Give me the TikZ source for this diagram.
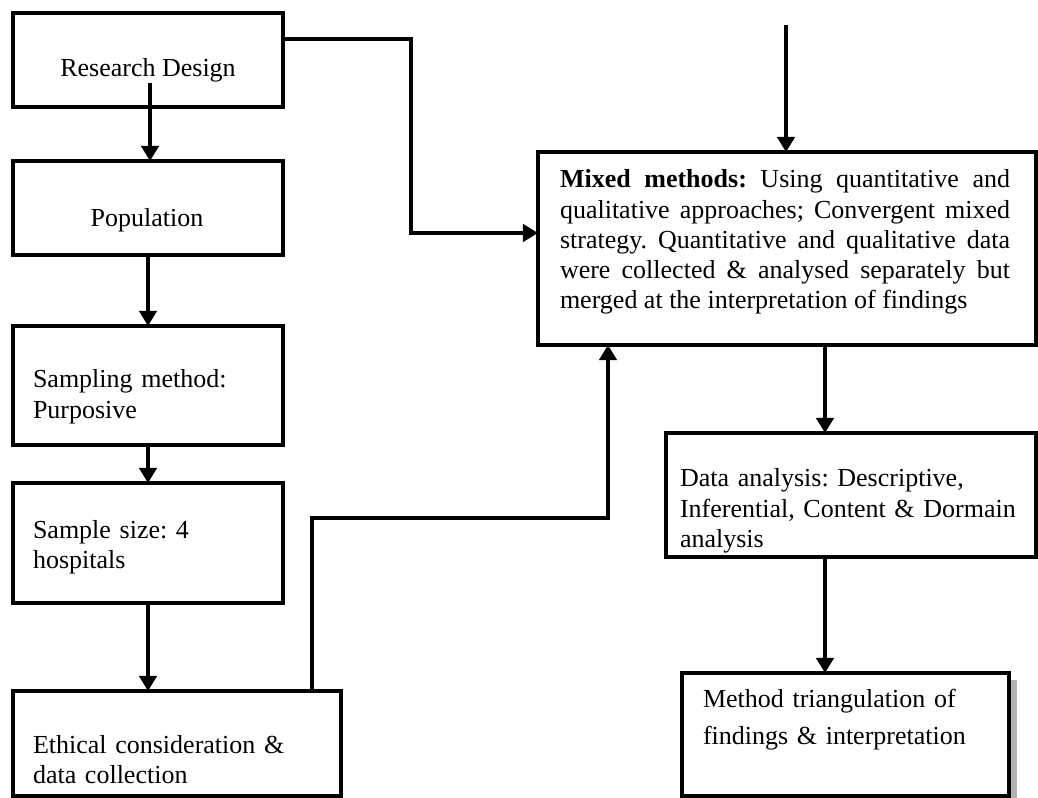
\documentclass[tikz,border=0pt]{standalone}
\usepackage{fontspec}
\setmainfont{Liberation Serif}
\usetikzlibrary{arrows.meta,fit}
\frenchspacing
\begin{document}
\begin{tikzpicture}[x=0.4615pt,y=-0.4615pt,
  box/.style={draw,line width=1.85pt,inner sep=0pt,outer sep=0pt,fill=white},
  conn/.style={line width=1.85pt},
  arr/.style={conn,-{Triangle[length=7pt,width=8pt]}},
  txt/.style={inner sep=0pt,outer sep=0pt,font=\fontsize{12}{13.85}\selectfont},
  para/.style={txt,anchor=base west,align=left,text width=150pt},
]
\useasboundingbox (0,0) rectangle (1038,798);

% left column of boxes
\node[box,fit={(13,13)(283,107)}] (rd) {};
\node[box,fit={(13,161)(283,255)}] (pop) {};
\node[box,fit={(13,326)(283,445)}] (samp) {};
\node[box,fit={(13,483)(283,603)}] (size) {};
\node[box,fit={(13,691)(341,796)}] (eth) {};

% right column of boxes
\node[box,fit={(538,152)(1036,345)}] (mix) {};
\node[box,fit={(666,433)(1036,557)}] (da) {};
\fill[gray!60] (690,680) rectangle (1017,806);
\node[box,fit={(682,673)(1009,796)}] (tri) {};

% box texts
\node[txt,anchor=base] (rdt) at (148,77) {Research Design};
\node[txt,anchor=base] (popt) at (147,227) {Population};
\node[para] (sampt) at (33,388) {Sampling method:\\Purposive};
\node[para] (sizet) at (33,538) {Sample size: 4\\hospitals};
\node[para] (etht) at (33,753) {Ethical consideration \&\\data collection};
\node[txt,anchor=base west,align=justify,text width=207.7pt] (mixt) at (560,188)
  {\textbf{Mixed methods:} Using quantitative and\linebreak
   qualitative approaches; Convergent mixed\linebreak
   strategy. Quantitative and qualitative data\linebreak
   were collected \& analysed separately but\linebreak
   merged at the interpretation of findings};
\node[para,text width=170pt] (dat) at (680,487)
  {Data analysis: Descriptive,\\Inferential, Content \& Dormain\\analysis};
\node[para,text width=150pt,font=\fontsize{12}{17.1}\selectfont] (trit) at (703,707)
  {Method triangulation of\\findings \& interpretation};

% connectors
\coordinate (rdstart) at (150,83);
\draw[arr] (rdstart) -- (rdstart |- pop.north);
\draw[arr] (pop.south) -- (samp.north);
\draw[arr] (samp.south) -- (size.north);
\draw[arr] (size.south) -- (size.south |- eth.north);

\coordinate (r1) at (411,39);
\coordinate (r2) at (411,233);
\draw[arr] (rd.east |- r1) -- (r1) -- (r2) -- (r2 -| mix.west);

\coordinate (ebend) at (312,518);
\coordinate (mbend) at (608,518);
\draw[arr] (eth.north -| ebend) -- (ebend) -- (mbend) -- (mbend |- mix.south);

\coordinate (topin) at (786,25);
\draw[arr] (topin) -- (topin |- mix.north);

\coordinate (dx) at (825,0);
\draw[arr] (mix.south -| dx) -- (da.north -| dx);
\draw[arr] (da.south -| dx) -- (tri.north -| dx);
\end{tikzpicture}
\end{document}
